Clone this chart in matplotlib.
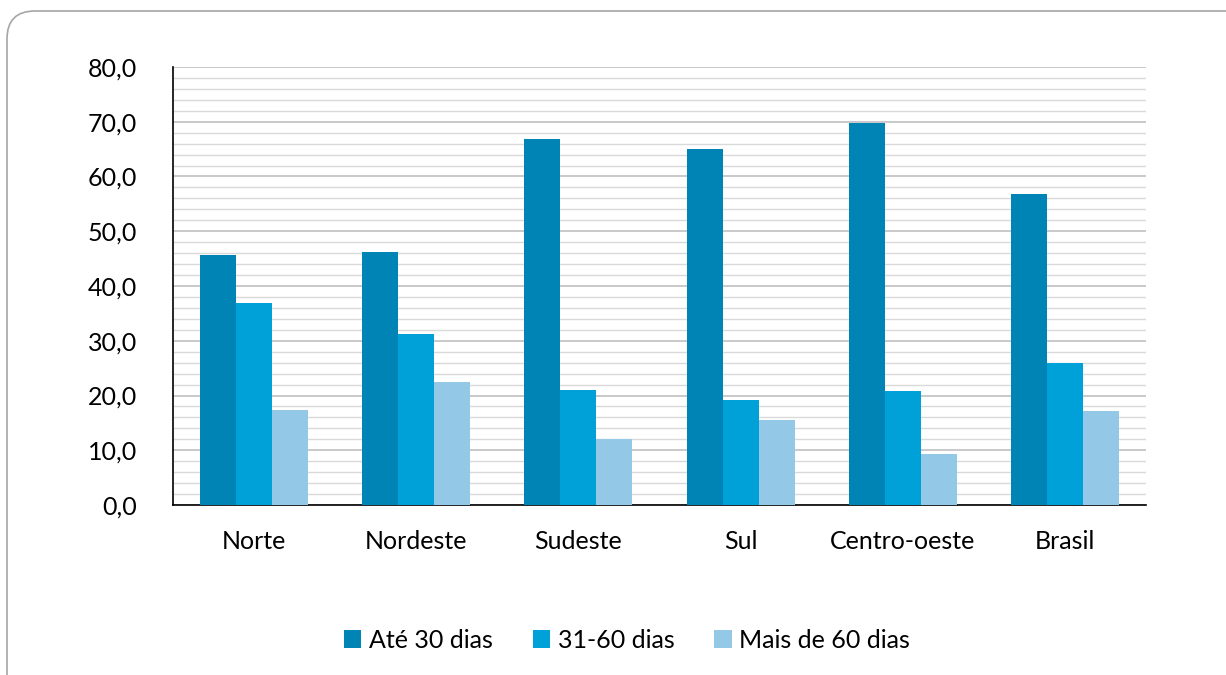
import matplotlib
matplotlib.use("Agg")
import matplotlib.pyplot as plt
from matplotlib.patches import FancyBboxPatch, Patch
import numpy as np

categories = ["Norte", "Nordeste", "Sudeste", "Sul", "Centro-oeste", "Brasil"]
series_names = ["Até 30 dias", "31-60 dias", "Mais de 60 dias"]
ate30 = [45.7, 46.2, 66.8, 65.1, 69.7, 56.8]
d31_60 = [36.9, 31.2, 21.0, 19.2, 20.8, 25.9]
mais60 = [17.4, 22.4, 12.0, 15.6, 9.4, 17.1]
yticks = [0, 10, 20, 30, 40, 50, 60, 70, 80]
ytick_labels = ["0,0", "10,0", "20,0", "30,0", "40,0", "50,0", "60,0", "70,0", "80,0"]

colors = ["#0083B5", "#00A1D9", "#93C8E7"]

plt.rcParams['font.family'] = ['Lato', 'DejaVu Sans']

W, H = 1226, 675
fig = plt.figure(figsize=(W / 100, H / 100), dpi=100)

# background axes for rounded border (pixel coords)
bg = fig.add_axes([0, 0, 1, 1], zorder=-10)
bg.set_xlim(0, W)
bg.set_ylim(H, 0)
bg.axis("off")
border = FancyBboxPatch((7, 11), W + 40, H + 40,
                        boxstyle="round,pad=0,rounding_size=28",
                        facecolor="white", edgecolor="#A6A6A6", linewidth=1.2)
bg.add_patch(border)

ax = fig.add_axes([173 / W, 1 - 505 / H, (1146 - 173) / W, (505 - 67) / H])
ax.set_facecolor("none")

x = np.arange(len(categories))
bw = 0.222
for i, (vals, c) in enumerate(zip([ate30, d31_60, mais60], colors)):
    ax.bar(x + (i - 1) * bw, vals, width=bw, color=c, zorder=3, label=series_names[i])

ax.set_xlim(-0.5, len(categories) - 0.5)
ax.set_ylim(0, 80)
ax.set_yticks(yticks)
ax.set_yticklabels(ytick_labels)
ax.set_yticks(np.arange(0, 81, 2), minor=True)
ax.grid(axis='y', which='minor', color="#D9D9D9", linewidth=1.0, zorder=0)
ax.grid(axis='y', which='major', color="#C0C0C0", linewidth=1.2, zorder=0)
ax.set_xticks(x)
ax.set_xticklabels(categories)
ax.tick_params(axis='both', which='both', length=0, labelsize=18, colors="black")
ax.tick_params(axis='x', pad=18)
ax.tick_params(axis='y', pad=26)
for s in ["top", "right"]:
    ax.spines[s].set_visible(False)
for s in ["left", "bottom"]:
    ax.spines[s].set_color("black")
    ax.spines[s].set_linewidth(1.2)

handles = [Patch(facecolor=c, edgecolor='none') for c in colors]
fig.legend(handles, series_names, loc="center", bbox_to_anchor=(627 / W, 1 - 640 / H),
           ncol=3, frameon=False, fontsize=18, handlelength=0.7, handleheight=0.7,
           handletextpad=0.3, columnspacing=1.6)

fig.savefig("out.png", dpi=100)
